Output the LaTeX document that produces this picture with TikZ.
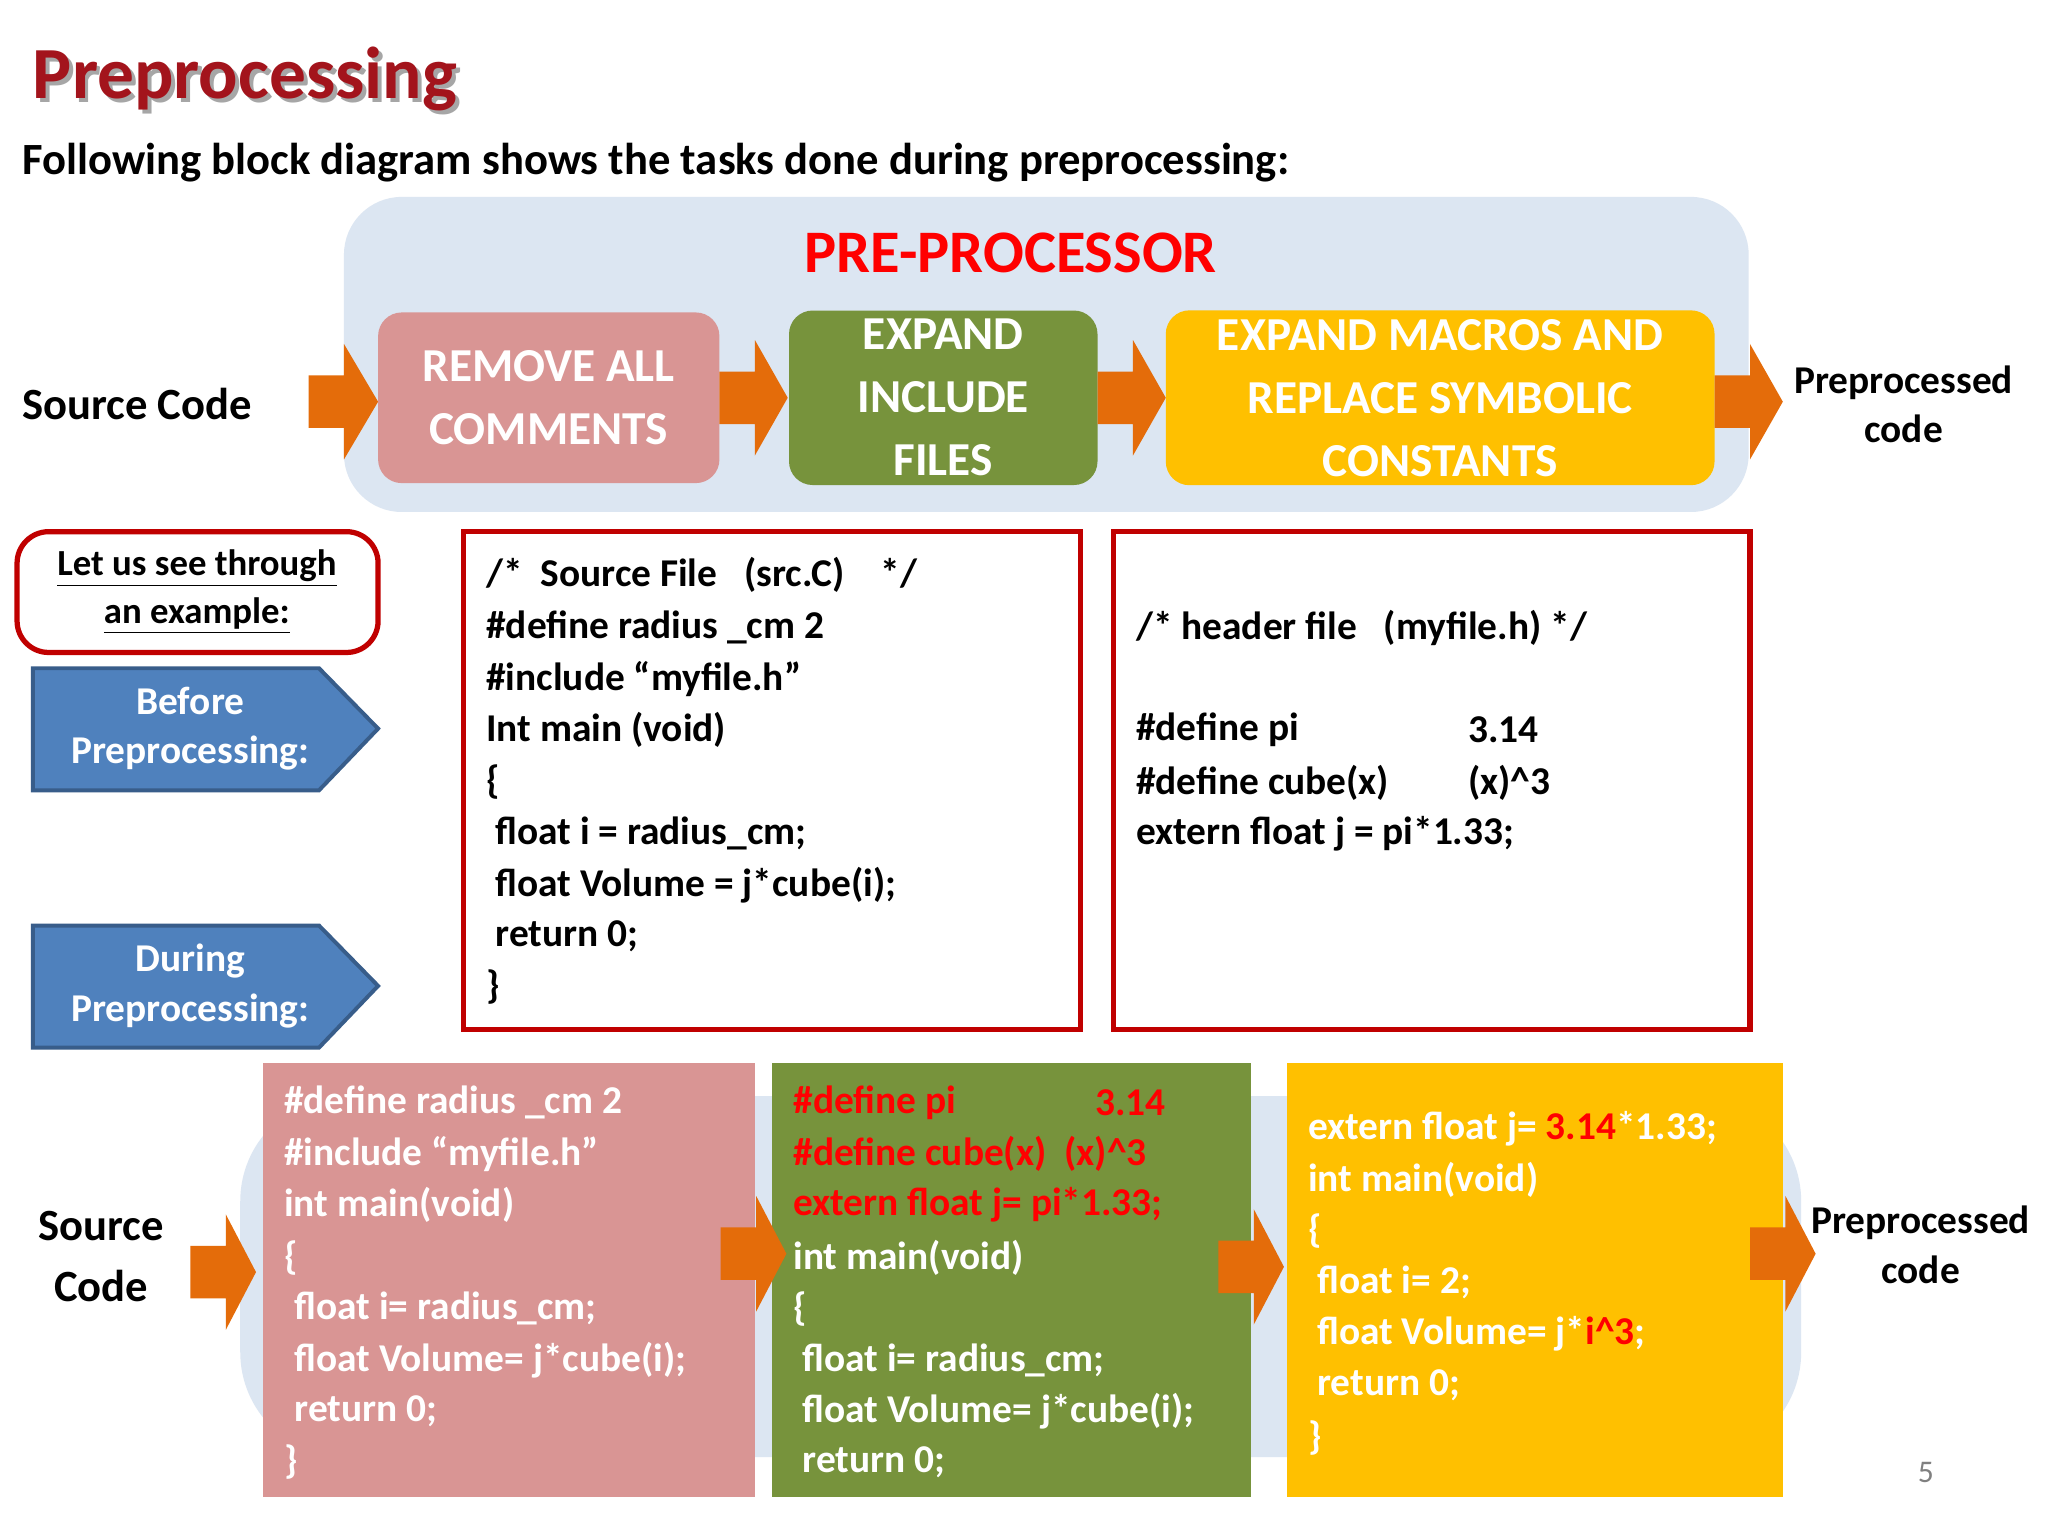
\documentclass[tikz,border=0pt]{standalone}
\usepackage{fontspec}
\setmainfont{Carlito}
\usetikzlibrary{shapes.arrows}
\definecolor{lblue}{HTML}{DCE6F2}
\definecolor{pinkb}{HTML}{D99594}
\definecolor{greenb}{HTML}{77933C}
\definecolor{goldb}{HTML}{FFC000}
\definecolor{orng}{HTML}{E46C0A}
\definecolor{blueb}{HTML}{4F81BD}
\definecolor{blued}{HTML}{385D8A}
\definecolor{redb}{HTML}{C00000}
\definecolor{ttl}{HTML}{A3141C}
\definecolor{rtxt}{HTML}{FF0000}
\tikzset{
 code/.style={anchor=west,inner sep=0pt,font=\bfseries\fontsize{15}{18}\selectfont},
 wcode/.style={code,text=white},
 rcode/.style={code,text=rtxt},
 blk/.style={rounded corners=9pt,text=white,align=center,font=\bfseries\fontsize{18}{24}\selectfont},
 lbl/.style={align=center,font=\bfseries\fontsize{15}{19}\selectfont},
 codebox/.style={draw=redb,line width=2pt},
}
\newcommand{\oarr}[3]{\fill[orng] (#1,#3-20) -- (#1+27,#3-20) -- (#1+27,#3-44) -- (#2,#3) -- (#1+27,#3+44) -- (#1+27,#3+20) -- (#1,#3+20) -- cycle;}
\begin{document}
\begin{tikzpicture}[x=0.5pt,y=-0.5pt]
\useasboundingbox[fill=white] (0,0) rectangle (1560,1170);
% title
\node[anchor=west,text=black!35,font=\bfseries\fontsize{28}{32}\selectfont] at (21,63) {Preprocessing};
\node[anchor=west,text=ttl,font=\bfseries\fontsize{28}{32}\selectfont] (title) at (18,60) {Preprocessing};
\node[anchor=west,font=\bfseries\fontsize{17}{20}\selectfont] (sub) at (10,124) {Following block diagram shows the tasks done during preprocessing:};
% top panel
\fill[lblue,rounded corners=22pt] (262,150) rectangle (1332,390);
\node[text=rtxt,font=\bfseries\fontsize{23}{26}\selectfont] (pp) at (770,193) {PRE-PROCESSOR};
\node[anchor=west,lbl,font=\bfseries\fontsize{17}{20}\selectfont] (src) at (10,308) {Source Code};
\oarr{235}{288}{306}
\node[blk,fill=pinkb,minimum width=130pt,minimum height=65pt] (b1) at (418,303) {REMOVE ALL\\COMMENTS};
\oarr{548}{600}{303}
\node[blk,fill=greenb,minimum width=117.5pt,minimum height=65pt] (b2) at (718.5,303) {EXPAND\\INCLUDE\\FILES};
\oarr{836}{888}{303}
\node[blk,fill=goldb,minimum width=209pt,minimum height=65pt] (b3) at (1097,303) {EXPAND MACROS AND\\REPLACE SYMBOLIC\\CONSTANTS};
\oarr{1306}{1358}{306}
\node[lbl] (pc) at (1450,308) {Preprocessed\\code};
% example box
\draw[redb,line width=2pt,rounded corners=12pt] (13,405) rectangle (288,497);
\node[lbl,font=\bfseries\fontsize{14}{18}\selectfont] (ex) at (150,451) {\underline{Let us see through}\\\underline{an example:}};
% pentagons
\foreach \yy/\nm/\t in {509/bef/Before, 705/dur/During}{
 \draw[blued,line width=1.5pt,fill=blueb] (25,\yy) -- (243,\yy) -- (288,\yy+46) -- (243,\yy+93) -- (25,\yy+93) -- cycle;
 \node[lbl,text=white] (\nm) at (145,\yy+46) {\t\\Preprocessing:};
}
% source file box
\draw[codebox] (353,405) rectangle (823,784);
\node[code] (s1) at (370,438) {/*\ \ Source File\ \ \ (src.C)\ \ \ \ */};
\node[code] (s2) at (370,478) {\#define radius \_cm 2};
\node[code] (s3) at (370,517) {\#include “myfile.h”};
\node[code] (s4) at (370,556) {Int main (void)};
\node[code] (s5) at (370,596) {\{};
\node[code] (s6) at (377,635) {float i = radius\_cm;};
\node[code] (s7) at (377,674) {float Volume = j*cube(i);};
\node[code] (s8) at (377,713) {return 0;};
\node[code] (s9) at (370,752) {\}};
% header box
\draw[codebox] (848,405) rectangle (1333,784);
\node[code] (h1) at (865,478) {/* header file\ \ \ (myfile.h) */};
\node[code] (h2) at (865,556) {\#define pi};
\node[code] (h2b) at (1118,556) {3.14};
\node[code] (h3) at (865,596) {\#define cube(x)};
\node[code] (h3b) at (1118,596) {(x)\^{}3};
\node[code] (h4) at (865,635) {extern float j = pi*1.33;};
% bottom panel
\fill[lblue,rounded corners=40pt] (183,835) rectangle (1372,1110);
\fill[pinkb] (200,810) rectangle (575,1140);
\fill[greenb] (588,810) rectangle (953,1140);
\fill[goldb] (980,810) rectangle (1358,1140);
\node[lbl,font=\bfseries\fontsize{17}{23}\selectfont] (src2) at (77,957) {Source\\Code};
\oarr{145}{195}{969}
\oarr{549}{599}{955}
\oarr{928}{978}{965}
\oarr{1333}{1383}{955}
\node[lbl] (pc2) at (1463,948) {Preprocessed\\code};
% pink code
\node[wcode] (p1) at (216,840) {\#define radius \_cm 2};
\node[wcode] (p2) at (216,879) {\#include “myfile.h”};
\node[wcode] (p3) at (216,918) {int main(void)};
\node[wcode] (p4) at (216,958) {\{};
\node[wcode] (p5) at (224,997) {float i= radius\_cm;};
\node[wcode] (p6) at (224,1036) {float Volume= j*cube(i);};
\node[wcode] (p7) at (224,1075) {return 0;};
\node[wcode] (p8) at (216,1114) {\}};
% green code
\node[rcode] (g1) at (604,840) {\#define pi};
\node[rcode] (g1b) at (834,840) {3.14};
\node[rcode] (g2) at (604,879) {\#define cube(x)\ \ (x)\^{}3};
\node[rcode] (g3) at (604,918) {extern float j= pi*1.33;};
\node[wcode] (g4) at (604,958) {int main(void)};
\node[wcode] (g5) at (604,997) {\{};
\node[wcode] (g6) at (611,1036) {float i= radius\_cm;};
\node[wcode] (g7) at (611,1075) {float Volume= j*cube(i);};
\node[wcode] (g8) at (611,1114) {return 0;};
% gold code
\node[wcode] (y1) at (996,860) {extern float j= \textcolor{rtxt}{3.14}*1.33;};
\node[wcode] (y2) at (996,899) {int main(void)};
\node[wcode] (y3) at (996,938) {\{};
\node[wcode] (y4) at (1003,977) {float i= 2;};
\node[wcode] (y5) at (1003,1016) {float Volume= j*\textcolor{rtxt}{i\^{}3};};
\node[wcode] (y6) at (1003,1055) {return 0;};
\node[wcode] (y7) at (996,1095) {\}};
\node[text=black!50,font=\fontsize{12}{14}\selectfont] (pg) at (1467,1122) {5};
\end{tikzpicture}
\end{document}
